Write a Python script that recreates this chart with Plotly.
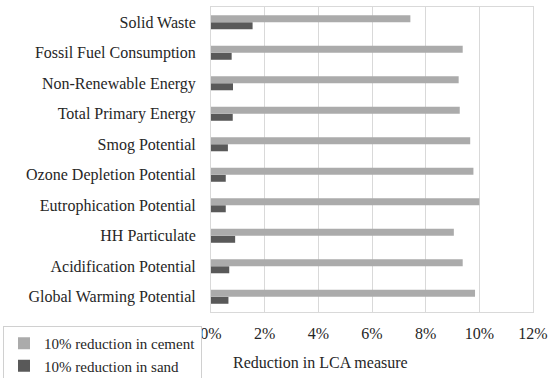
import plotly.graph_objects as go

categories = ["Global Warming Potential", "Acidification Potential", "HH Particulate",
              "Eutrophication Potential", "Ozone Depletion Potential", "Smog Potential",
              "Total Primary Energy", "Non-Renewable Energy", "Fossil Fuel Consumption",
              "Solid Waste"]
cement = [0.0984, 0.0938, 0.0905, 0.1000, 0.0978, 0.0966, 0.0927, 0.0923, 0.0938, 0.0743]
sand = [0.0065, 0.0068, 0.0090, 0.0055, 0.0055, 0.0063, 0.0081, 0.0082, 0.0077, 0.0155]
x_ticks = [0, 0.02, 0.04, 0.06, 0.08, 0.10, 0.12]

FONT = "Liberation Serif"
L, R, T, B = 211, 17, 7, 66
PW = 550 - L - R
PH = 378 - T - B

fig = go.Figure()
fig.add_trace(go.Bar(y=categories, x=sand, orientation="h", name="10% reduction in sand",
                     marker=dict(color="#595959", line=dict(width=0))))
fig.add_trace(go.Bar(y=categories, x=cement, orientation="h", name="10% reduction in cement",
                     marker=dict(color="#ababab", line=dict(width=0))))

fig.update_layout(
    width=550, height=378,
    margin=dict(l=L, r=R, t=T, b=B, autoexpand=False),
    paper_bgcolor="white", plot_bgcolor="white",
    font=dict(family=FONT, size=16, color="#262626"),
    barmode="group", bargap=0.54, bargroupgap=0,
    showlegend=True,
    legend=dict(traceorder="reversed", x=(3 - L) / PW, y=(T + PH - 326) / PH,
                xanchor="left", yanchor="top",
                bordercolor="#d0d0d0", borderwidth=1, font=dict(size=15),
                itemwidth=30, tracegroupgap=0),
    xaxis=dict(range=[0, 0.12], tickvals=x_ticks, tickformat=".0%",
               showgrid=True, gridcolor="#d9d9d9", gridwidth=1,
               showline=True, linecolor="#d9d9d9", mirror=True, zeroline=False,
               ticks="", ticklabelstandoff=7),
    yaxis=dict(showgrid=False, showline=True, linecolor="#d9d9d9", mirror=True,
               ticks="", ticklabelstandoff=11),
    annotations=[dict(text="Reduction in LCA measure", x=(320 - L) / PW, xref="paper",
                      y=(T + PH - 362) / PH, yref="paper", showarrow=False,
                      xanchor="center", yanchor="middle")],
)
fig.write_html("out.html", config={"displayModeBar": False},
               post_script="document.body.style.margin='0';")
